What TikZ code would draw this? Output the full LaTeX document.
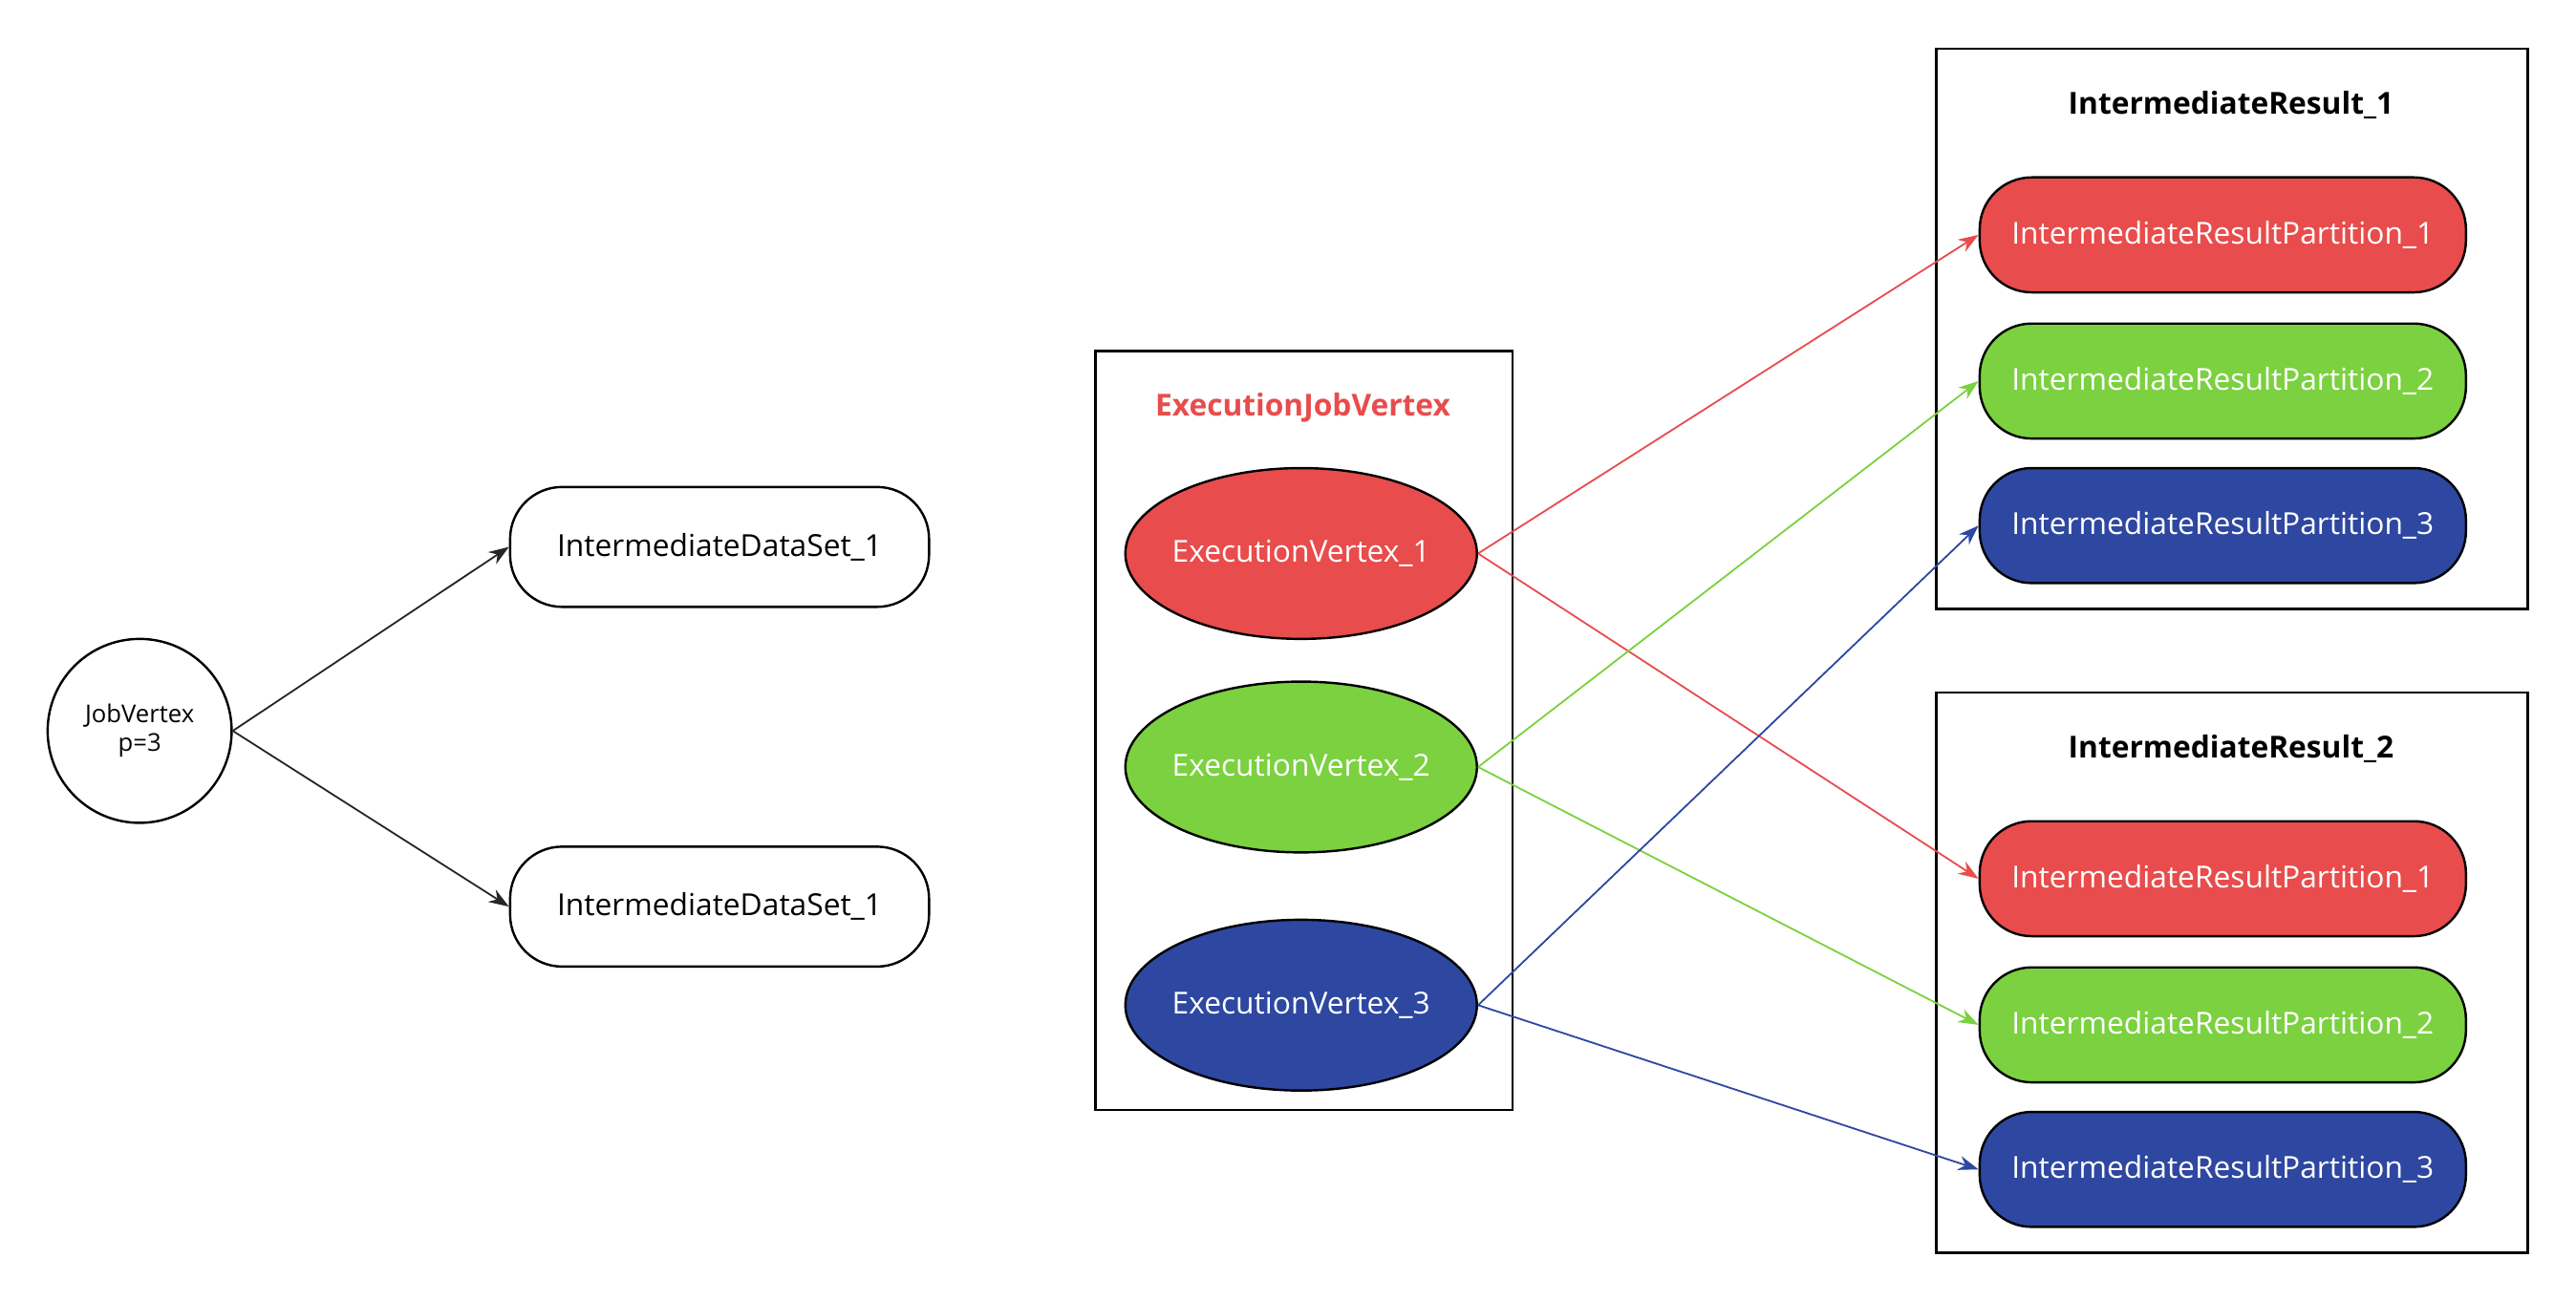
\documentclass[tikz,border=0pt]{standalone}
\usepackage{fontspec}
\setmainfont{Open Sans}
\usetikzlibrary{shapes.geometric,arrows.meta,positioning}
\definecolor{pred}{HTML}{E84C4C}
\definecolor{pgreen}{HTML}{7BD13F}
\definecolor{pblue}{HTML}{2E47A0}
\newcommand{\flatlabel}[1]{\makebox[0pt]{#1}}
\tikzset{dataset/.style={rectangle,rounded corners=18pt,draw,thick,minimum width=255*0.02cm,minimum height=73*0.02cm,font=\fontsize{10.5}{12}\selectfont},
         exvertex/.style={ellipse,draw,thick,inner sep=0pt,minimum width=214*0.02cm,minimum height=104*0.02cm,text=white,font=\fontsize{10.5}{12}\selectfont},
         partition/.style={rectangle,rounded corners=18pt,draw,thick,minimum width=296*0.02cm,minimum height=70*0.02cm,text=white,font=\fontsize{10.5}{12}\selectfont},
         group/.style={rectangle,draw,thick,anchor=north west},
         title/.style={font=\bfseries\fontsize{10.5}{12}\selectfont},
         link/.style={semithick,-{Stealth[length=7pt,width=5pt]}}
}
\begin{document}
\begin{tikzpicture}[x=0.02cm,y=-0.02cm]
\useasboundingbox (0,0) rectangle (1568,792);
% job vertex and data sets
\node[circle,draw,thick,minimum size=112*0.02cm,align=center,font=\fontsize{8.5}{10}\selectfont] (jv) at (85,445) {JobVertex\\p=3};
\node[dataset] (ds1) at (438,333) {IntermediateDataSet\_1};
\node[dataset] (ds2) at (438,552) {IntermediateDataSet\_1};
\draw[link,black!85] (jv.east) -- (ds1.west);
\draw[link,black!85] (jv.east) -- (ds2.west);
% execution job vertex
\node[group,minimum width=254*0.02cm,minimum height=462*0.02cm] (ejv) at (666,213) {};
\node[title,text=pred] (ejvtitle) at (793,248) {ExecutionJobVertex};
\node[exvertex,fill=pred] (ev1) at (792,337) {\flatlabel{ExecutionVertex\_1}};
\node[exvertex,fill=pgreen] (ev2) at (792,467) {\flatlabel{ExecutionVertex\_2}};
\node[exvertex,fill=pblue] (ev3) at (792,612) {\flatlabel{ExecutionVertex\_3}};
% intermediate results
\foreach \r/\top in {1/29,2/421}{
  \node[group,minimum width=360*0.02cm,minimum height=341*0.02cm] (ir\r) at (1178,\top) {};
  \node[title] (ir\r title) at (1358,\top+35) {IntermediateResult\_\r};
  \node[partition,fill=pred] (p\r1) at (1353,\top+114) {IntermediateResultPartition\_1};
  \node[partition,fill=pgreen] (p\r2) at (1353,\top+203) {IntermediateResultPartition\_2};
  \node[partition,fill=pblue] (p\r3) at (1353,\top+291) {IntermediateResultPartition\_3};
}
\draw[link,pred] (ev1.east) -- (p11.west);
\draw[link,pred] (ev1.east) -- (p21.west);
\draw[link,pgreen] (ev2.east) -- (p12.west);
\draw[link,pgreen] (ev2.east) -- (p22.west);
\draw[link,pblue] (ev3.east) -- (p13.west);
\draw[link,pblue] (ev3.east) -- (p23.west);
\end{tikzpicture}
\end{document}
